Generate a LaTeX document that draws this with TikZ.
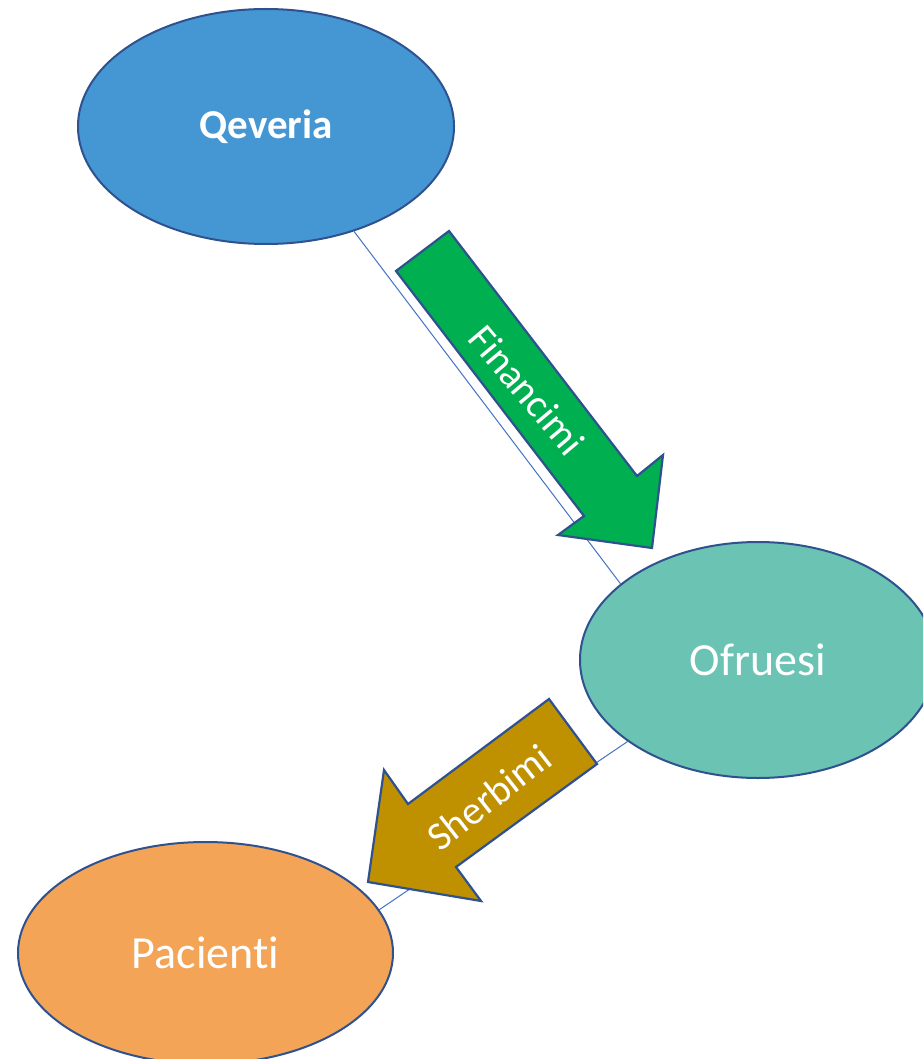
\documentclass[tikz,border=0pt]{standalone}
\usepackage{fontspec}
\setmainfont[Ligatures=NoCommon]{Carlito}
\usetikzlibrary{shapes.geometric}
\definecolor{qblue}{HTML}{4597D3}
\definecolor{oteal}{HTML}{6BC3B3}
\definecolor{porange}{HTML}{F4A457}
\definecolor{agreen}{HTML}{00AF50}
\definecolor{abrown}{HTML}{BF9000}
\definecolor{edge}{HTML}{2F528F}
\definecolor{lineblue}{HTML}{4472C4}
\tikzset{
  bubble/.style={ellipse, draw=edge, line width=2pt, inner sep=0pt, text=white},
  conn/.style={draw=lineblue, line width=1pt},
  blockarrow/.style={draw=edge, line width=2.2pt, line join=miter},
  arrowlabel/.style={text=white, font=\fontsize{40}{40}\selectfont, inner sep=0pt}
}
\begin{document}
\begin{tikzpicture}[x=1pt, y=-1pt]
\useasboundingbox (0,0) rectangle (923,1059);
\clip (0,0) rectangle (923,1059);
\fill[white] (0,0) rectangle (923,1059);

% ellipses
\node[bubble, fill=qblue, minimum width=376pt, minimum height=235pt,
      font=\fontsize{41}{41}\selectfont\bfseries] (Q) at (266,126.5) {Qeveria};
\node[bubble, fill=oteal, minimum width=356pt, minimum height=236pt,
      font=\fontsize{46}{46}\selectfont] (O) at (758,660) {Ofruesi};
\node[bubble, fill=porange, minimum width=375pt, minimum height=222pt,
      font=\fontsize{46}{46}\selectfont] (P) at (205.5,953) {Pacienti};

% connectors
\draw[conn] (Q.-50) -- (O.151);
\draw[conn] (O.-148) -- (P.14);

% green block arrow
\coordinate (g1) at (396,271);
\coordinate (g2) at (449,231);
\coordinate (g3) at (637,476);
\coordinate (g4) at (663,455);
\coordinate (g5) at (652,548);
\coordinate (g6) at (558,535);
\coordinate (g7) at (584,516);
\draw[blockarrow, fill=agreen] (g1) -- (g2) -- (g3) -- (g4) -- (g5) -- (g6) -- (g7) -- cycle;
\node[arrowlabel, rotate=-50] (fin) at (527,390) {Financimi};

% brown block arrow
\coordinate (b1) at (549,699);
\coordinate (b2) at (597,764);
\coordinate (b3) at (456,867);
\coordinate (b4) at (481,901);
\coordinate (b5) at (368,882);
\coordinate (b6) at (384,770);
\coordinate (b7) at (408,804);
\draw[blockarrow, fill=abrown] (b1) -- (b2) -- (b3) -- (b4) -- (b5) -- (b6) -- (b7) -- cycle;
\node[arrowlabel, rotate=38] (sher) at (489,797) {Sherbimi};
\end{tikzpicture}
\end{document}
